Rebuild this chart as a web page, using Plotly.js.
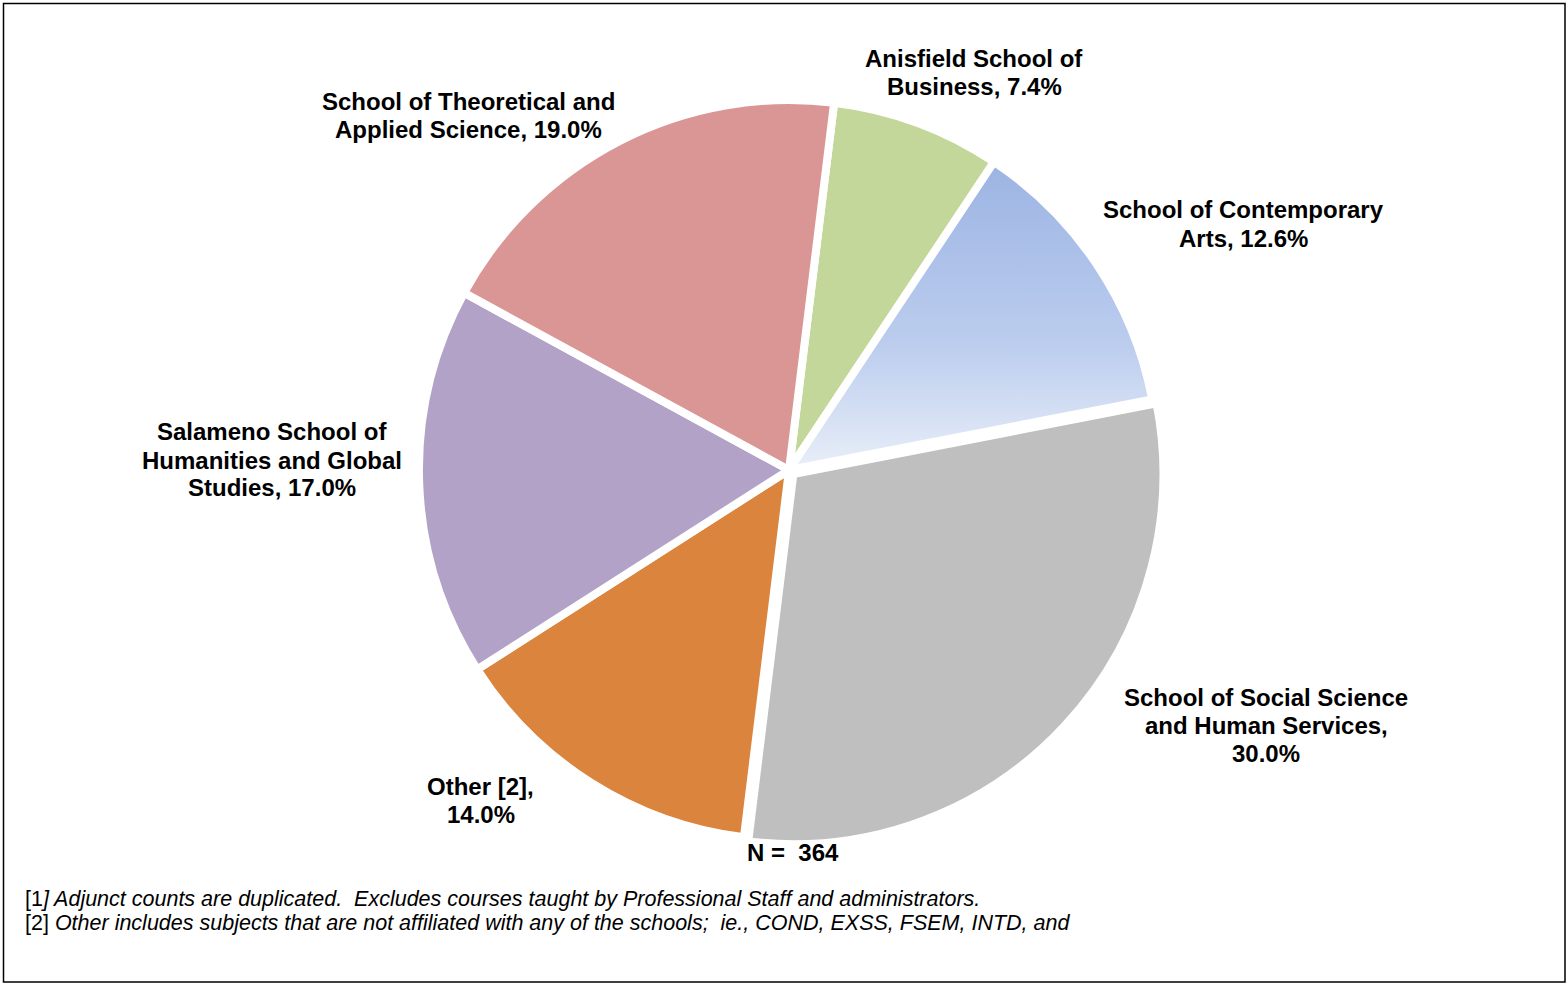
<!DOCTYPE html>
<html>
<head>
<meta charset="utf-8">
<script src="https://cdn.plot.ly/plotly-3.0.1.min.js"></script>
<style>
html,body{margin:0;padding:0;background:#fff;}
#chart{width:1568px;height:984px;}
</style>
</head>
<body>
<div id="chart"></div>
<script>
// ---- data ----
const categories = [
  "Anisfield School of Business",
  "School of Contemporary Arts",
  "School of Social Science and Human Services",
  "Other [2]",
  "Salameno School of Humanities and Global Studies",
  "School of Theoretical and Applied Science"
];
const shares = [7.4, 12.6, 30.0, 14.0, 17.0, 19.0];
const totalN = 364;
const footnotes = [
  "[1<i>] Adjunct counts are duplicated.  Excludes courses taught by Professional Staff and administrators.</i>",
  "[2] <i>Other includes subjects that are not affiliated with any of the schools;  ie., COND, EXSS, FSEM, INTD, and</i>"
];

// ---- presentation ----
const colors = ["#c4d79b", "#a9bfe8", "#bfbfbf", "#db843d", "#b3a2c7", "#d99694"];
const pulls = [0, 0, 0.016, 0, 0, 0];
// label text wrapping (display only)
const wrappedNames = [
  "Anisfield School of<br>Business",
  "School of Contemporary<br>Arts",
  "School of Social Science<br>and Human Services,<br>",
  "Other [2],<br>",
  "Salameno School of<br>Humanities and Global<br>Studies",
  "School of Theoretical and<br>Applied Science"
];
const sep = [", ", ", ", "", "", ", ", ", "];
// label anchor positions in pixels (centre x, first-line y)
const labelPos = [[974, 59], [1243, 210], [1266, 697], [481, 786], [272, 432], [468, 101]];
const lineGap = 28;

const W = 1568, H = 984;
const px = x => x / W;
const py = y => 1 - y / H;
const FONT = "Liberation Sans, Arial, sans-serif";

const annotations = [];
categories.forEach((c, i) => {
  const full = wrappedNames[i] + sep[i] + shares[i].toFixed(1) + "%";
  full.split("<br>").forEach((line, k) => annotations.push({
    text: "<b>" + line + "</b>",
    x: px(labelPos[i][0]), y: py(labelPos[i][1] + k * lineGap),
    xref: "paper", yref: "paper", showarrow: false,
    xanchor: "center", yanchor: "middle", align: "center",
    font: {family: FONT, size: 24, color: "#000"}
  }));
});
annotations.push({
  text: "<b>N =  " + totalN + "</b>",
  x: px(793), y: py(852), xref: "paper", yref: "paper", showarrow: false,
  xanchor: "center", yanchor: "middle",
  font: {family: FONT, size: 24, color: "#000"}
});
footnotes.forEach((t, i) => annotations.push({
  text: t, x: px(23), y: py(899 + i * 24), xref: "paper", yref: "paper",
  showarrow: false, xanchor: "left", yanchor: "middle", align: "left",
  font: {family: FONT, size: 21.5, color: "#000"}
}));

const trace = {
  type: "pie",
  labels: categories,
  values: shares,
  sort: false,
  direction: "clockwise",
  rotation: 7,
  pull: pulls,
  textinfo: "none",
  hoverinfo: "label+percent",
  marker: {colors: colors, line: {color: "#ffffff", width: 8}},
  domain: {x: [0.2634, 0.7430], y: [0.1402, 0.9045]},
  showlegend: false
};

const layout = {
  width: W, height: H,
  margin: {l: 0, r: 0, t: 0, b: 0},
  paper_bgcolor: "#ffffff",
  showlegend: false,
  annotations: annotations,
  shapes: [{
    type: "rect", xref: "paper", yref: "paper",
    x0: px(3.5), x1: px(1565), y0: py(982), y1: py(3.5),
    line: {color: "#000", width: 1.5}, fillcolor: "rgba(0,0,0,0)"
  }]
};

Plotly.newPlot("chart", [trace], layout, {displayModeBar: false, staticPlot: true}).then(gd => {
  // vertical gradient for the Contemporary Arts slice
  const svg = gd.querySelector("svg.main-svg");
  const ns = "http://www.w3.org/2000/svg";
  let defs = svg.querySelector("defs");
  if (!defs) { defs = document.createElementNS(ns, "defs"); svg.insertBefore(defs, svg.firstChild); }
  const lg = document.createElementNS(ns, "linearGradient");
  lg.setAttribute("id", "artsGrad");
  lg.setAttribute("x1", "0"); lg.setAttribute("y1", "0");
  lg.setAttribute("x2", "0"); lg.setAttribute("y2", "1");
  [["0", "#9cb4e3"], ["0.6", "#bccdee"], ["1", "#e9eff9"]].forEach(([o, c]) => {
    const s = document.createElementNS(ns, "stop");
    s.setAttribute("offset", o); s.setAttribute("stop-color", c);
    lg.appendChild(s);
  });
  defs.appendChild(lg);
  const slices = gd.querySelectorAll("g.slice path.surface");
  if (slices[1]) slices[1].style.fill = "url(#artsGrad)";
});
</script>
</body>
</html>
